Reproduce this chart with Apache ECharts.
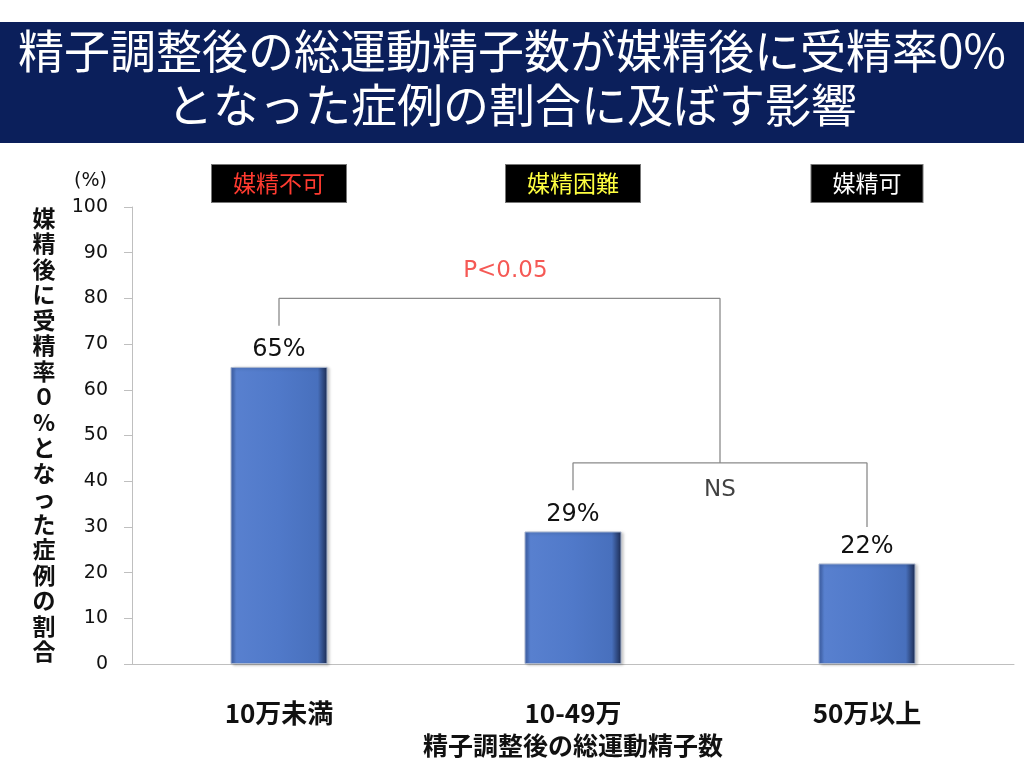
<!DOCTYPE html>
<html>
<head>
<meta charset="utf-8">
<script src="https://cdn.jsdelivr.net/npm/echarts/dist/echarts.min.js"></script>
<style>
    html, body { margin: 0; padding: 0; background: #fff; }
    #chart { width: 1024px; height: 770px; }
</style>
</head>
<body>
<div id="chart"></div>
<script>
// データ
const categories = [ '10万未満', '10-49万', '50万以上' ];
const rates = [ 65, 29, 22 ];
const headers = [ '媒精不可', '媒精困難', '媒精可' ];
const headerColors = [ '#ff3b30', '#ffff40', '#ffffff' ];
const yTicks = [ 0, 100, 10 ]; // min, max, interval

// 有意差の括弧 [カテゴリ位置, 値]
const bracketP = [ [ 0, 74 ], [ 0, 80 ], [ 1.5, 80 ], [ 1.5, 44 ] ];
const bracketNS = [ [ 1, 38 ], [ 1, 44 ], [ 2, 44 ], [ 2, 30 ] ];
const notes = [
    { name: 'P<0.05', value: [ 0.77, 86 ], color: '#f2302a' },
    { name: 'NS', value: [ 1.5, 38 ], color: '#111' }
];

const titleLines = [
    '精子調整後の総運動精子数が媒精後に受精率0%',
    'となった症例の割合に及ぼす影響'
];
const yName = '媒精後に受精率０%となった症例の割合';

const jp = '"Noto Sans CJK JP", "Noto Sans", sans-serif';
const num = '"DejaVu Sans", "Noto Sans", sans-serif';
const axisGray = '#bfbfbf';
const bracketGray = '#8a8a8a';

const chart = echarts.init( document.getElementById( 'chart' ) );

const option = {
    animation: false,
    title: {
        text: titleLines.join( '\n' ),
        left: 'center',
        top: 19,
        textStyle: {
            color: '#fff',
            fontFamily: jp,
            fontWeight: 'normal',
            fontSize: 46,
            lineHeight: 54
        }
    },
    graphic: [
        {
            type: 'rect',
            z: -1,
            shape: { x: 0, y: 22, width: 1024, height: 121 },
            style: { fill: '#0b1f5b' }
        },
        {
            // 縦書きの軸タイトル
            type: 'text',
            x: 44,
            y: 435,
            style: {
                text: yName.split( '' ).join( '\n' ),
                fontFamily: jp,
                fontWeight: 'bold',
                fontSize: 23,
                lineHeight: 25.5,
                fill: '#111',
                align: 'center',
                verticalAlign: 'middle'
            }
        }
    ],
    grid: {
        left: 132,
        right: 10,
        top: 207,
        bottom: 106
    },
    xAxis: [
        {
            type: 'category',
            data: categories,
            axisLine: { lineStyle: { color: axisGray } },
            axisTick: { length: 10, lineStyle: { color: axisGray } },
            axisLabel: {
                margin: 36,
                fontSize: 26,
                fontWeight: 'bold',
                fontFamily: jp,
                color: '#111'
            },
            name: '精子調整後の総運動精子数',
            nameLocation: 'middle',
            nameGap: 69,
            nameTextStyle: {
                fontSize: 25,
                fontWeight: 'bold',
                fontFamily: jp,
                color: '#111'
            }
        },
        {
            // 上の見出し（媒精不可 / 困難 / 可）
            type: 'category',
            position: 'top',
            data: headers,
            axisLine: { show: false },
            axisTick: { show: false },
            axisLabel: {
                margin: 5,
                fontSize: 23,
                fontFamily: jp,
                backgroundColor: '#000',
                borderColor: '#777',
                borderWidth: 1,
                padding: [ 7, 21, 7, 21 ],
                color: ( val, idx ) => headerColors[idx]
            }
        },
        {
            // 括弧・注記用の隠し軸
            type: 'value',
            min: -0.5,
            max: 2.5,
            show: false
        }
    ],
    yAxis: {
        type: 'value',
        min: yTicks[0],
        max: yTicks[1],
        interval: yTicks[2],
        splitLine: { show: false },
        axisLine: { show: true, onZero: false, lineStyle: { color: axisGray } },
        axisTick: { show: true, length: 8, lineStyle: { color: axisGray } },
        axisLabel: {
            margin: 24,
            fontSize: 19,
            fontFamily: num,
            color: '#111'
        },
        name: '(%)',
        nameLocation: 'end',
        nameGap: 26,
        nameTextStyle: {
            fontSize: 19,
            fontFamily: num,
            color: '#111',
            align: 'right',
            verticalAlign: 'middle',
            padding: [ 0, 25, 0, 0 ]
        }
    },
    series: [
        {
            type: 'bar',
            data: rates,
            barWidth: '33%',
            itemStyle: {
                color: new echarts.graphic.LinearGradient( 0, 0, 1, 0, [
                    { offset: 0, color: '#3e61a8' },
                    { offset: 0.06, color: '#5880cf' },
                    { offset: 0.5, color: '#5079c9' },
                    { offset: 0.9, color: '#4870bd' },
                    { offset: 1, color: '#1b2a50' }
                ] ),
                borderColor: '#a9b6cf',
                borderWidth: 1,
                shadowColor: 'rgba(0,0,0,0.25)',
                shadowBlur: 3,
                shadowOffsetX: 2,
                shadowOffsetY: 1
            },
            label: {
                show: true,
                position: 'top',
                distance: 5,
                formatter: '{c}%',
                fontSize: 24,
                fontFamily: num,
                color: '#111'
            }
        },
        {
            type: 'line',
            xAxisIndex: 2,
            data: bracketP,
            symbol: 'none',
            silent: true,
            lineStyle: { color: bracketGray, width: 1.3 }
        },
        {
            type: 'line',
            xAxisIndex: 2,
            data: bracketNS,
            symbol: 'none',
            silent: true,
            lineStyle: { color: bracketGray, width: 1.3 }
        },
        {
            type: 'scatter',
            xAxisIndex: 2,
            symbolSize: 0,
            silent: true,
            data: notes.map( n => ({
                name: n.name,
                value: n.value,
                label: { color: n.color }
            }) ),
            label: {
                show: true,
                position: 'inside',
                formatter: '{b}',
                fontSize: 23,
                fontFamily: num
            }
        }
    ]
};

chart.setOption( option );
</script>
</body>
</html>
